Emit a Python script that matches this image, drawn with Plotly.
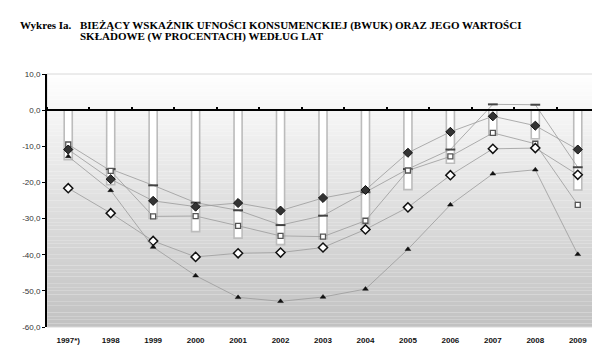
import plotly.graph_objects as go

years = ["1997*)", "1998", "1999", "2000", "2001", "2002", "2003",
         "2004", "2005", "2006", "2007", "2008", "2009"]

# BWUK (bars)
bwuk = [-13.7, -20.6, -30.0, -33.6, -35.4, -37.2, -35.6, -31.6, -22.0, -14.7, -6.9, -7.9, -22.1]
# components
comp_dash = [None, -16.3, -20.8, -25.6, -27.7, -31.8, -29.2, -22.7, -16.3, -10.9, 1.6, 1.5, -15.8]
comp_fdiam = [-10.9, -19.1, -25.1, -26.7, -25.7, -27.8, -24.3, -22.1, -11.8, -6.0, -1.7, -4.3, -10.9]
comp_square = [-9.5, -16.8, -29.4, -29.3, -32.0, -34.8, -35.0, -30.6, -16.7, -12.8, -6.3, -9.3, -26.2]
comp_odiam = [-21.6, -28.5, -36.2, -40.6, -39.6, -39.4, -38.0, -33.0, -26.9, -18.0, -10.7, -10.5, -17.9]
comp_tri = [-12.8, -22.2, -37.9, -45.8, -51.8, -52.9, -51.7, -49.5, -38.5, -26.2, -17.6, -16.5, -39.9]

y_ticks = [10, 0, -10, -20, -30, -40, -50, -60]
y_labels = ["10,0", "0,0", "-10,0", "-20,0", "-30,0", "-40,0", "-50,0", "-60,0"]

title_lead = "Wykres Ia."
title_line1 = "BIEŻĄCY WSKAŹNIK UFNOŚCI KONSUMENCKIEJ (BWUK) ORAZ JEGO WARTOŚCI"
title_line2 = "SKŁADOWE (W PROCENTACH) WEDŁUG LAT"

LINE_C = "#9a9a9a"
fig = go.Figure()

fig.add_trace(go.Bar(x=years, y=bwuk, width=0.19,
                     marker=dict(color="white", line=dict(color="#bcbcbc", width=1.6)),
                     showlegend=False, hoverinfo="skip"))

def add_line(vals, symbol, size, fill, lcol, lw):
    fig.add_trace(go.Scatter(
        x=years, y=vals, mode="lines+markers",
        line=dict(color=LINE_C, width=0.8),
        marker=dict(symbol=symbol, size=size, color=fill, line=dict(color=lcol, width=lw)),
        connectgaps=False, showlegend=False, hoverinfo="skip"))

add_line(comp_dash, "line-ew", 7, "#444444", "#444444", 2)
add_line(comp_square, "square", 5, "white", "#555555", 1.3)
add_line(comp_odiam, "diamond", 7, "white", "#111111", 1.5)
add_line(comp_tri, "triangle-up", 5, "#111111", "#111111", 0.5)
add_line(comp_fdiam, "diamond", 7, "#333333", "#111111", 1)

# helper overlay axis for the zero-line ticks
fig.add_trace(go.Scatter(x=[0], y=[None], xaxis="x2", mode="markers",
                         showlegend=False, hoverinfo="skip"))

# gradient background
shapes = []
N = 70
for i in range(N):
    t = i / (N - 1)
    v = int(round(254 - (254 - 194) * t))
    col = f"rgb({v},{v},{v})"
    shapes.append(dict(type="rect", xref="x domain", yref="y domain",
                       x0=0, x1=1, y0=1 - (i + 1) / N, y1=1 - i / N,
                       fillcolor=col, line=dict(width=0), layer="below"))
shapes.append(dict(type="rect", xref="x domain", yref="y domain", x0=0, x1=1, y0=0, y1=1,
                   line=dict(color="#d8d8d8", width=1), layer="below"))

# page has an 8px body margin, so the figure is 592x355
W, H = 592, 355
ML, MR, MT, MB = 39, 1, 66, 36
pw, ph = W - ML - MR, H - MT - MB

def px(xp):  # page x -> paper
    return (xp - 8 - ML) / pw

def py(yp):  # page y -> paper
    return 1 - (yp - 8 - MT) / ph

fig.update_layout(
    width=W, height=H,
    margin=dict(l=ML, r=MR, t=MT, b=MB),
    paper_bgcolor="white", plot_bgcolor="rgba(0,0,0,0)",
    shapes=shapes,
    bargap=0.8,
    font=dict(family="Liberation Sans, Arial", size=8, color="#222"),
    xaxis=dict(type="category", showgrid=False, ticks="outside", ticklen=5,
               tickcolor="rgba(0,0,0,0)", showline=False, automargin=False,
               tickfont=dict(family="Liberation Sans, Arial", size=8, color="#111"),
               tickprefix="<b>", ticksuffix="</b>", range=[-0.5, 12.5]),
    xaxis2=dict(overlaying="x", anchor="free", position=60 / 70, side="top",
                range=[-0.5, 12.5], tickvals=[i - 0.5 for i in range(14)],
                ticks="outside", ticklen=2, tickwidth=2, tickcolor="black",
                showticklabels=False, showline=True, linecolor="black", linewidth=2,
                showgrid=False, zeroline=False),
    yaxis=dict(range=[-60, 10], tickvals=y_ticks, ticktext=y_labels, automargin=False,
               showgrid=False, zeroline=False, showline=True, linecolor="black",
               linewidth=2, ticks="outside", ticklen=3, tickwidth=1, tickcolor="black",
               tickfont=dict(family="Liberation Sans, Arial", size=8, color="#333")),
)

tfont = dict(family="Liberation Serif, Times New Roman", size=11, color="black")
fig.add_annotation(x=px(18), y=py(25), xref="paper", yref="paper",
                   xanchor="left", yanchor="middle", showarrow=False,
                   text=f"<b>{title_lead}</b>", font=tfont)
fig.add_annotation(x=px(78), y=py(25), xref="paper", yref="paper",
                   xanchor="left", yanchor="middle", showarrow=False,
                   text=f"<b>{title_line1}</b>", font=tfont)
fig.add_annotation(x=px(78), y=py(37), xref="paper", yref="paper",
                   xanchor="left", yanchor="middle", showarrow=False,
                   text=f"<b>{title_line2}</b>", font=tfont)

fig.write_html("out.html")
